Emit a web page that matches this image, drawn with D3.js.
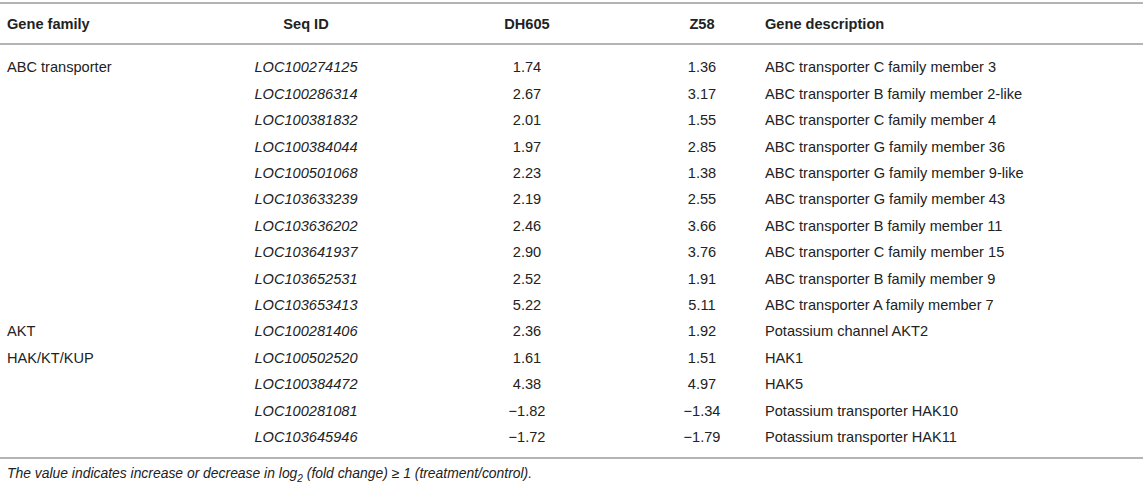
<!DOCTYPE html>
<html>
<head>
<meta charset="utf-8">
<script src="https://cdn.jsdelivr.net/npm/d3@7"></script>
<style>
  body { margin: 0; background: #fff; }
  text { font-family: "Liberation Sans", Arial, sans-serif; fill: #222; }
</style>
</head>
<body>
<svg id="frame"></svg>
<script>
const width = 1143;
const height = 485;

// table data
const headers = ["Gene family", "Seq ID", "DH605", "Z58", "Gene description"];
const families = ["ABC transporter", "", "", "", "", "", "", "", "", "", "AKT", "HAK/KT/KUP", "", "", ""];
const seqIds = ["LOC100274125", "LOC100286314", "LOC100381832", "LOC100384044", "LOC100501068",
  "LOC103633239", "LOC103636202", "LOC103641937", "LOC103652531", "LOC103653413",
  "LOC100281406", "LOC100502520", "LOC100384472", "LOC100281081", "LOC103645946"];
const dh605 = [1.74, 2.67, 2.01, 1.97, 2.23, 2.19, 2.46, 2.90, 2.52, 5.22, 2.36, 1.61, 4.38, -1.82, -1.72];
const z58 = [1.36, 3.17, 1.55, 2.85, 1.38, 2.55, 3.66, 3.76, 1.91, 5.11, 1.92, 1.51, 4.97, -1.34, -1.79];
const descriptions = ["ABC transporter C family member 3", "ABC transporter B family member 2-like",
  "ABC transporter C family member 4", "ABC transporter G family member 36",
  "ABC transporter G family member 9-like", "ABC transporter G family member 43",
  "ABC transporter B family member 11", "ABC transporter C family member 15",
  "ABC transporter B family member 9", "ABC transporter A family member 7",
  "Potassium channel AKT2", "HAK1", "HAK5", "Potassium transporter HAK10", "Potassium transporter HAK11"];

const rows = seqIds.map((id, i) => ({
  family: families[i], id: id, dh: dh605[i], z: z58[i], desc: descriptions[i]
}));

const fmt = d3.format(".2f");

const svg = d3.select('#frame')
  .attr('width', width)
  .attr('height', height);

// column positions
const colX = d3.scaleOrdinal().domain(headers).range([7, 306, 527, 702, 765]);
const colAnchor = d3.scaleOrdinal().domain(headers).range(["start", "middle", "middle", "middle", "start"]);

// row positions
const yScale = d3.scaleBand()
  .domain(d3.range(rows.length))
  .range([54, 450]);

const fontSize = 14.6;

// rules
const lineY = [3, 44, 458];
svg.selectAll('line.rule').data(lineY).enter()
  .append('line')
  .attr('class', 'rule')
  .attr('x1', 0).attr('x2', width)
  .attr('y1', d => d).attr('y2', d => d)
  .attr('stroke', '#b4b4b4')
  .attr('stroke-width', 2);

// header
svg.selectAll('text.head').data(headers).enter()
  .append('text')
  .attr('class', 'head')
  .attr('x', d => colX(d))
  .attr('y', 23.5)
  .attr('dy', '0.35em')
  .attr('text-anchor', d => colAnchor(d))
  .style('font-weight', 'bold')
  .style('font-size', fontSize + 'px')
  .text(d => d);

// body
const g = svg.append('g');
const rowG = g.selectAll('g.row').data(rows).enter()
  .append('g')
  .attr('class', 'row')
  .attr('transform', (d, i) => `translate(0,${yScale(i) + yScale.bandwidth() / 2})`);

const cells = [
  {key: "Gene family", get: d => d.family, italic: false},
  {key: "Seq ID", get: d => d.id, italic: true},
  {key: "DH605", get: d => fmt(d.dh), italic: false},
  {key: "Z58", get: d => fmt(d.z), italic: false},
  {key: "Gene description", get: d => d.desc, italic: false}
];

cells.forEach(c => {
  rowG.append('text')
    .attr('x', colX(c.key))
    .attr('dy', '0.35em')
    .attr('text-anchor', colAnchor(c.key))
    .style('font-size', fontSize + 'px')
    .style('font-style', c.italic ? 'italic' : 'normal')
    .text(c.get);
});

// footnote
const note = svg.append('text')
  .attr('x', 7)
  .attr('y', 473)
  .attr('dy', '0.35em')
  .style('font-size', '13.9px')
  .style('font-style', 'italic');
note.append('tspan').text('The value indicates increase or decrease in log');
note.append('tspan').attr('dy', 4).style('font-size', '10px').text('2');
note.append('tspan').attr('dy', -4).text(' (fold change) \u2265 1 (treatment/control).');
</script>
</body>
</html>
